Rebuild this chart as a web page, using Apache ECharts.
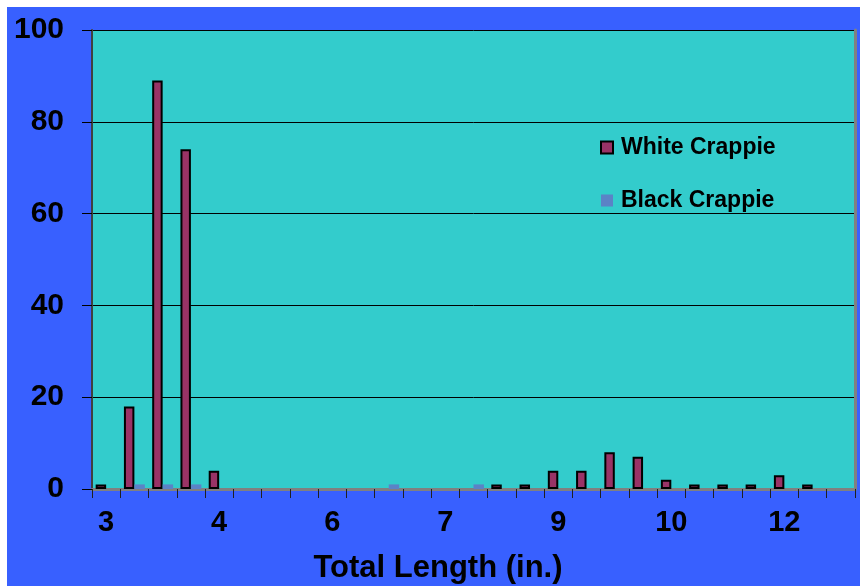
<!DOCTYPE html>
<html>
<head>
<meta charset="utf-8">
<script src="https://cdn.jsdelivr.net/npm/echarts@6/dist/echarts.min.js"></script>
<style>
html,body{margin:0;padding:0;background:#ffffff;}
#c{position:absolute;left:0;top:0;width:860px;height:586px;}
</style>
</head>
<body>
<div id="c"></div>
<script>
// 27 length bins; labels shown every 4th bin
const categories = ['b0','b1','b2','b3','b4','b5','b6','b7','b8','b9','b10','b11','b12','b13','b14','b15','b16','b17','b18','b19','b20','b21','b22','b23','b24','b25','b26'];
const tickLabels = ['3','4','6','7','9','10','12'];
const whiteCrappie = [1,18,89,74,4,0,0,0,0,0,0,0,0,0,1,1,4,4,8,7,2,1,1,1,3,1,0];
const blackCrappie = [0,1,1,1,0,0,0,0,0,0,1,0,0,1,0,0,0,0,0,0,0,0,0,0,0,0,0];
const yTicks = [0,20,40,60,80,100];

const chart = echarts.init(document.getElementById('c'));
const F = '"Liberation Sans", Arial, sans-serif';
chart.setOption({
  animation: false,
  backgroundColor: '#ffffff',
  graphic: [{type:'rect', shape:{x:7,y:7,width:853,height:579}, style:{fill:'#3860ff'}, z:-10, silent:true}],
  grid: {left:92, right:5, top:30, bottom:97, show:true, backgroundColor:'#33cccc', borderWidth:0, outerBoundsMode:'none', containLabel:false},
  legend: {
    orient:'vertical', left:595, top:131, itemGap:30, itemWidth:12, itemHeight:12,
    textStyle:{fontFamily:F, fontWeight:'bold', fontSize:23, color:'#000', padding:[0,0,0,3]},
    data:[
      {name:'White Crappie', icon:'rect', itemStyle:{borderColor:'#000', borderWidth:2}},
      {name:'Black Crappie', icon:'rect'}
    ]
  },
  xAxis: [{
    type:'category', data:categories, boundaryGap:true, position:'bottom',
    axisLine:{lineStyle:{color:'#404040', width:2}},
    axisTick:{show:true, interval:0, length:9, lineStyle:{color:'#202020', width:1}},
    axisLabel:{interval:0, margin:19, fontFamily:F, fontWeight:'bold', fontSize:29, color:'#000',
      formatter:(v,i)=> i%4===0 ? tickLabels[i/4] : ''},
    name:'Total Length (in.)', nameLocation:'middle', nameGap:64,
    nameTextStyle:{fontFamily:F, fontWeight:'bold', fontSize:31, color:'#000', padding:[0,71,0,0]},
    splitLine:{show:false}
  },{
    type:'category', data:categories, position:'top',
    axisLine:{lineStyle:{color:'#808080', width:3}}, axisTick:{show:false}, axisLabel:{show:false}
  }],
  yAxis: [{
    type:'value', min:0, max:100, interval:20,
    axisLine:{show:true, lineStyle:{color:'#404040', width:2}},
    axisTick:{show:true, length:10, lineStyle:{color:'#000', width:1}},
    axisLabel:{margin:28, fontFamily:F, fontWeight:'bold', fontSize:30, color:'#000',
      formatter:v=> yTicks.indexOf(v)>=0 ? String(v) : ''},
    splitLine:{show:true, lineStyle:{color:'#000', width:1}}
  },{
    type:'value', min:0, max:100, interval:20, position:'right',
    axisLine:{show:true, lineStyle:{color:'#808080', width:3}}, axisTick:{show:false}, axisLabel:{show:false}, splitLine:{show:false}
  }],
  series: [{
    name:'White Crappie', type:'bar', data:whiteCrappie.map(v=>v===0?null:v),
    barGap:'0%', barCategoryGap:'26%',
    itemStyle:{color:'#993366', borderColor:'#000', borderWidth:2}
  },{
    name:'Black Crappie', type:'bar', data:blackCrappie.map(v=>v===0?null:v),
    barGap:'0%', barCategoryGap:'26%',
    itemStyle:{color:'#5b83c6'}
  }]
});
</script>
</body>
</html>
